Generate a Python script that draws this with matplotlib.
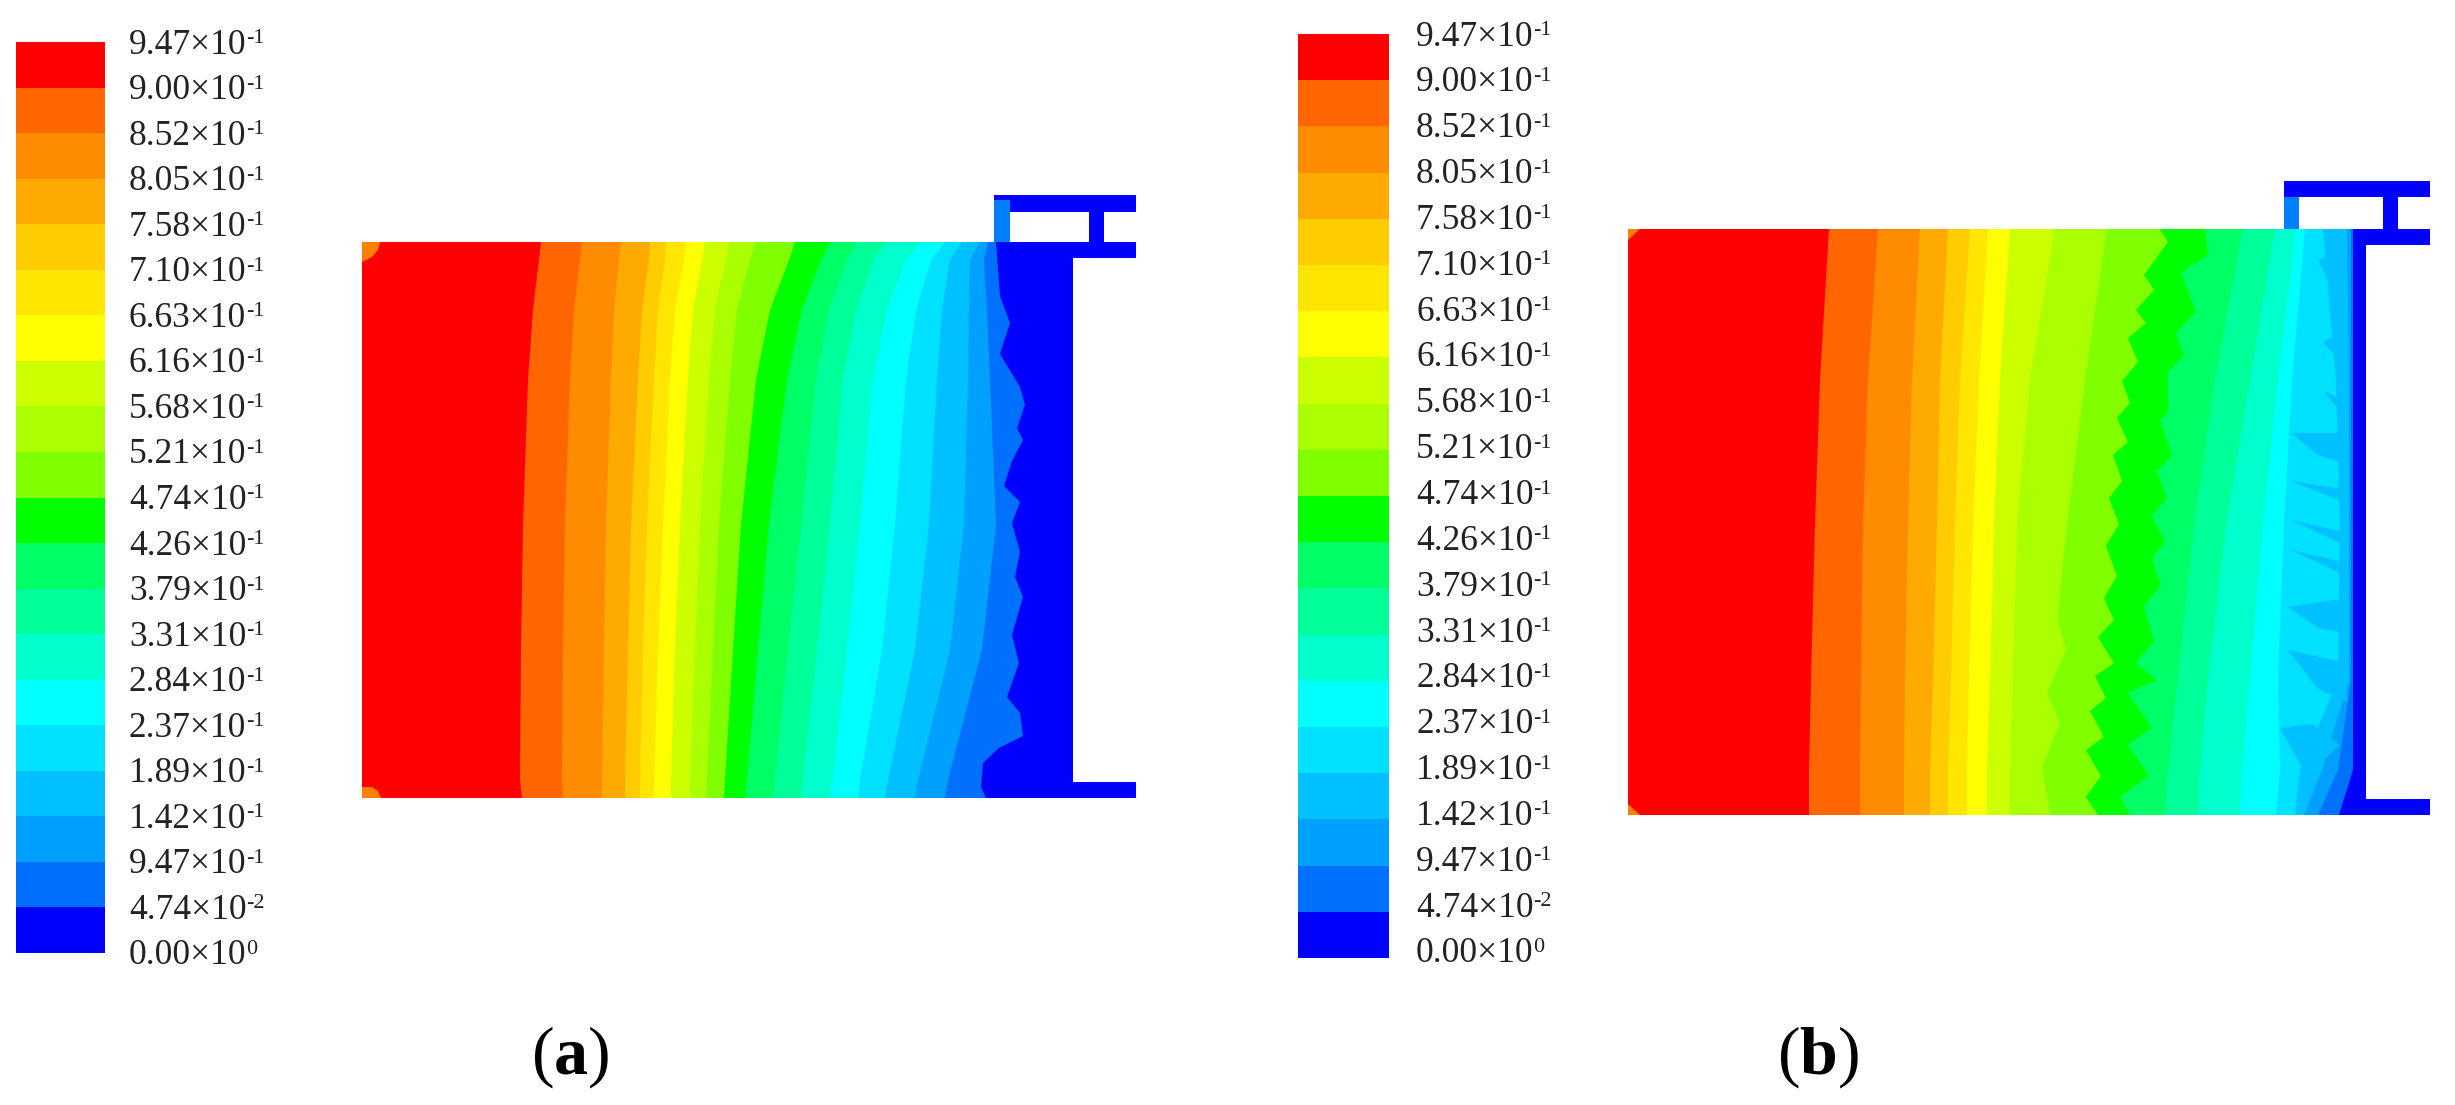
import matplotlib
matplotlib.use("Agg")
import matplotlib.pyplot as plt
import numpy as np

plt.rcParams['font.family'] = ['Liberation Serif', 'DejaVu Serif']
plt.rcParams['mathtext.fontset'] = 'custom'
plt.rcParams['mathtext.rm'] = 'Liberation Serif'
plt.rcParams['mathtext.bf'] = 'Liberation Serif:bold'

# legend, top to bottom
level_base = ["9.47", "9.00", "8.52", "8.05", "7.58", "7.10", "6.63", "6.16", "5.68", "5.21", "4.74",
              "4.26", "3.79", "3.31", "2.84", "2.37", "1.89", "1.42", "9.47", "4.74", "0.00"]
level_exp = ["-1"] * 19 + ["-2", "0"]
band_colors = ["#ff0000", "#ff6600", "#ff8c00", "#ffaa00", "#ffcc00", "#ffe600", "#ffff00", "#ccff00", "#aaff00", "#80ff00",
               "#00ff00", "#00ff66", "#00ff99", "#00ffcc", "#00ffff", "#00e0ff", "#00c0ff", "#00a0ff", "#0070ff", "#0000ff"]

# band edges of panel a, x at each height
a_y = [242, 260, 310, 380, 525, 650, 780, 798]
a_edges = np.array([
    [541, 582, 621, 650, 666, 686, 705, 729, 756, 795, 830, 857, 886, 920, 945, 962, 980, 988, 996],
    [539, 580, 619, 649, 665, 684, 702, 726, 750, 789, 821, 847, 874, 906, 931, 950, 970, 984, 1000],
    [533, 574, 614, 642, 658, 675, 693, 715, 737, 770, 802, 829, 856, 887, 916, 942, 969, 987, 1003],
    [528, 570, 611, 638, 654, 670, 688, 709, 730, 756, 787, 816, 843, 873, 906, 937, 968, 990, 1008],
    [523, 565, 606, 631, 647, 663, 680, 700, 719, 741, 769, 801, 830, 860, 895, 929, 964, 996, 1014],
    [521, 563, 604, 628, 643, 658, 675, 695, 713, 733, 758, 788, 817, 847, 882, 915, 950, 982, 1005],
    [520, 562, 602, 625, 640, 654, 671, 690, 707, 725, 747, 775, 803, 833, 860, 888, 918, 948, 980],
    [522, 563, 602, 625, 640, 654, 671, 690, 706, 724, 745, 773, 801, 830, 858, 885, 915, 945, 986],
])
a_last_y = [242, 296, 323, 354, 387, 405, 428, 440, 461, 486, 502, 523, 552, 577, 597, 635, 663, 697, 713, 736, 748, 763, 787, 798]
a_last_x = [996, 1000, 1010, 1000, 1020, 1025, 1017, 1023, 1012, 1004, 1020, 1012, 1020, 1015, 1023, 1012, 1019, 1007, 1020, 1023, 999, 983, 981, 986]

# band edges of panel b
b_y = [229, 380, 525, 680, 770, 815]
b_edges = np.array([
    [1829, 1878, 1920, 1948, 1970, 1988, 2010, 2055, 2107, 2160, 2205, 2243, 2275, 2296, 2305, 2323, 2347, 2351, 2353],
    [1820, 1868, 1912, 1940, 1960, 1979, 2000, 2030, 2085, 2130, 2170, 2215, 2250, 2278, 2292, 2336, 2349, 2351, 2353],
    [1815, 1863, 1908, 1937, 1955, 1973, 1994, 2017, 2067, 2119, 2165, 2194, 2226, 2263, 2284, 2340, 2349, 2351, 2353],
    [1811, 1861, 1905, 1933, 1951, 1969, 1990, 2013, 2058, 2095, 2157, 2178, 2208, 2250, 2278, 2338, 2349, 2351, 2353],
    [1809, 1860, 1904, 1930, 1948, 1967, 1987, 2010, 2052, 2090, 2149, 2168, 2200, 2242, 2280, 2300, 2322, 2338, 2353],
    [1809, 1860, 1904, 1930, 1948, 1967, 1987, 2010, 2050, 2098, 2130, 2165, 2198, 2240, 2276, 2295, 2304, 2318, 2339],
])
b_green_left_y = [229, 242, 275, 290, 310, 323, 338, 362, 381, 403, 418, 442, 455, 481, 498, 524, 546, 576, 598, 620, 637, 663, 676, 698, 711, 737, 750, 776, 797, 815]
b_green_left_x = [2160, 2168, 2144, 2154, 2136, 2146, 2128, 2138, 2122, 2130, 2117, 2128, 2113, 2122, 2109, 2119, 2106, 2117, 2104, 2114, 2098, 2114, 2095, 2106, 2090, 2104, 2086, 2101, 2086, 2098]
b_green_right_y = [229, 255, 273, 312, 333, 355, 372, 412, 420, 455, 472, 498, 516, 542, 559, 585, 607, 641, 663, 680, 693, 728, 745, 776, 797, 815]
b_green_right_x = [2205, 2208, 2181, 2196, 2176, 2184, 2168, 2168, 2160, 2172, 2157, 2167, 2152, 2165, 2152, 2161, 2144, 2154, 2136, 2157, 2128, 2152, 2128, 2149, 2120, 2130]
b_lime_y = [229, 380, 525, 593, 620, 650, 693, 723, 767, 815]
b_lime_x = [2107, 2085, 2067, 2060, 2058, 2066, 2047, 2060, 2042, 2050]

# lighter streaks beside the wall of panel b
b_streaks = [
    [(2318, 260), (2347, 247), (2347, 294), (2334, 290)],
    [(2323, 342), (2347, 329), (2347, 368)],
    [(2323, 390), (2347, 403), (2347, 420)],
    [(2291, 433), (2347, 433), (2347, 464), (2318, 455)],
    [(2291, 481), (2347, 490), (2347, 503)],
    [(2291, 520), (2347, 533), (2347, 546)],
    [(2291, 550), (2347, 563), (2347, 576)],
    [(2288, 607), (2347, 598), (2347, 633), (2318, 628)],
    [(2288, 650), (2347, 663), (2347, 702), (2318, 689)],
    [(2280, 728), (2312, 724), (2340, 745), (2307, 776)],
]

fig = plt.figure(figsize=(24.55, 11.05), dpi=100)
ax = fig.add_axes([0, 0, 1, 1])
ax.set_xlim(0, 2455)
ax.set_ylim(1105, 0)
ax.axis("off")


def colorbar(x0, x1, y0, y1, text_x, text_y0, text_y1):
    edges = np.linspace(y0, y1, len(band_colors) + 1)
    ax.bar(x0, edges[1:] - edges[:-1], x1 - x0, edges[:-1], color=band_colors, align="edge", linewidth=0)
    for base, exp, y in zip(level_base, level_exp, np.linspace(text_y0, text_y1, len(level_base))):
        ax.text(text_x, y + 11.5, base + "×10", fontsize=25.5, color="#222222", va="baseline")
        ax.text(text_x + 117, y + 1, exp, fontsize=16, color="#222222", va="baseline")


def field(left, right, top, bottom, y, edges, extra):
    ax.fill([left, right, right, left], [top, top, bottom, bottom], color=band_colors[0], lw=0)
    for i in range(edges.shape[1]):
        yy, xx = extra.get(i, (y, edges[:, i]))
        ax.fill(list(xx) + [right, right], list(yy) + [bottom, top], color=band_colors[i + 1], lw=0)


def box(x0, x1, y0, y1, color="#0000ff"):
    ax.fill([x0, x1, x1, x0], [y0, y0, y1, y1], color=color, lw=0)


colorbar(16, 105, 42, 953, 129, 42, 953)
colorbar(1298, 1389, 34, 958, 1416, 34, 951)

# panel a
field(362, 1073, 242, 798, a_y, a_edges, {18: (a_last_y, a_last_x)})
ax.fill([362, 380, 378, 372, 362], [242, 242, 250, 257, 262], color="#ff8000", lw=0)
ax.fill([362, 372, 378, 381, 362], [787, 787, 791, 798, 798], color="#ff8000", lw=0)
box(994, 1136, 195, 212)
box(994, 1010, 200, 242, "#0080ff")
box(1089, 1104, 212, 242)
box(1003, 1136, 242, 258)
box(1073, 1136, 782, 798)

# panel b
field(1628, 2366, 229, 815, b_y, b_edges,
      {8: (b_lime_y, b_lime_x), 9: (b_green_left_y, b_green_left_x), 10: (b_green_right_y, b_green_right_x)})
for s in b_streaks:
    ax.fill([p[0] for p in s], [p[1] for p in s], color="#00c0ff", lw=0)
ax.fill([1628, 1640, 1628], [229, 229, 240], color="#ff8000", lw=0)
ax.fill([1628, 1640, 1628], [815, 815, 804], color="#ff8000", lw=0)
box(2284, 2430, 181, 197)
box(2284, 2299, 197, 229, "#0080ff")
box(2383, 2398, 197, 229)
box(2353, 2430, 229, 245)
box(2353, 2430, 799, 815)

ax.text(570, 1074, r"($\mathbf{a}$)", fontsize=49, ha="center", va="baseline", color="black")
ax.text(1818, 1074, r"($\mathbf{b}$)", fontsize=49, ha="center", va="baseline", color="black")

fig.savefig("out.png", dpi=100)
